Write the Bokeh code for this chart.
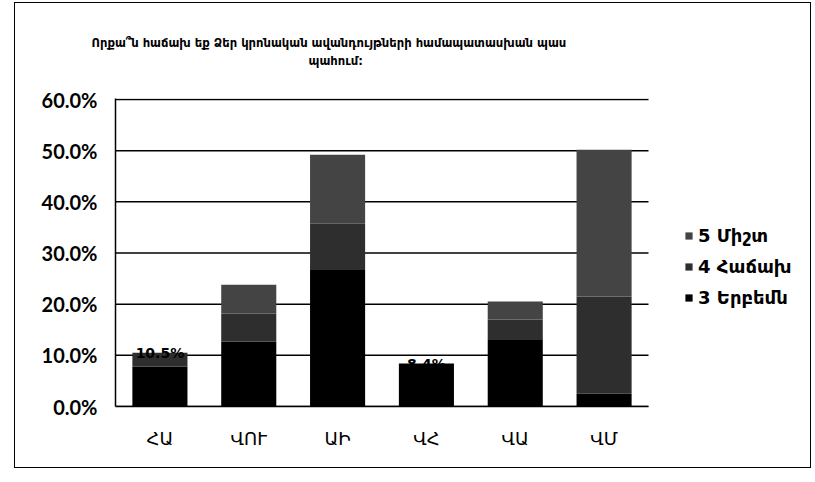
from bokeh.plotting import figure
from bokeh.models import Legend, LegendItem, PrintfTickFormatter, FixedTicker, Title, Range1d
from bokeh.embed import file_html
from bokeh.resources import INLINE
from bokeh.core.properties import value

# ---- data ----
categories = ["ՀԱ", "ՎՈՒ", "ԱԻ", "ՎՀ", "ՎԱ", "ՎՄ"]
series_keys = ["s3", "s4", "s5"]
series_names = ["3 Երբեմն", "4 Հաճախ", "5 Միշտ"]
s3 = [7.8, 12.7, 26.7, 8.4, 13.0, 2.5]
s4 = [2.7, 5.5, 9.0, 0.0, 4.0, 19.0]
s5 = [0.0, 5.6, 13.5, 0.0, 3.5, 28.7]
label_cats = ["ՀԱ", "ՎՀ"]
label_vals = [10.5, 8.4]
label_texts = ["10.5%", "8.4%"]
y_ticks = [0, 10, 20, 30, 40, 50, 60]
title_line1 = "Որքա՞ն հաճախ եք Ձեր կրոնական ավանդույթների համապատասխան պաս"
title_line2 = "պահում:"

colors = ["#000000", "#2e2e2e", "#444444"]

# category slot positions (one unit per category, bars centred in their slot)
xpos = [i + 0.5 for i in range(len(categories))]
n = len(categories)

FRAME_W = 697
x_end = n * FRAME_W / 533.0  # extra room on the right of the plot for the legend

p = figure(x_range=Range1d(0, x_end), y_range=Range1d(0, 60.2), width=797, height=466,
           output_backend="svg", toolbar_location=None,
           min_border_left=100, min_border_right=0,
           min_border_top=95, min_border_bottom=63)
p.styles = {"border": "1.5px solid black", "margin-left": "14px", "margin-top": "2px"}

src = dict(x=xpos, s3=s3, s4=s4, s5=s5)
rs = p.vbar_stack(series_keys, x="x", width=0.62, source=src,
                  fill_color=colors, line_color=None)

# horizontal gridlines limited to the category area
p.segment(x0=[0] * len(y_ticks), x1=[n] * len(y_ticks), y0=y_ticks, y1=y_ticks,
          line_color="#000000", line_width=1.5, level="underlay")

p.text(x=[xpos[categories.index(c)] for c in label_cats], y=label_vals, text=label_texts,
       text_align="center", text_baseline="middle",
       text_font=value("DejaVu Sans"), text_font_size="14px",
       text_font_style="bold", text_color="#000000")

# title (two lines)
p.title = None
t2 = Title(text=title_line2, align="left", offset=193, standoff=62,
           text_font="DejaVu Sans", text_font_size="11.6px",
           text_font_style="bold", text_color="#000000")
t1 = Title(text=title_line1, align="left", offset=-24, standoff=-58,
           text_font="DejaVu Sans", text_font_size="11.6px",
           text_font_style="bold", text_color="#000000")
p.add_layout(t2, "above")
p.add_layout(t1, "above")

# axes
p.yaxis.ticker = FixedTicker(ticks=y_ticks)
p.yaxis.formatter = PrintfTickFormatter(format="%.1f%%")
p.yaxis.major_label_text_font = "Lato"
p.yaxis.major_label_text_font_style = "bold"
p.yaxis.major_label_text_font_size = "20px"
p.yaxis.major_label_text_color = "#000000"
p.yaxis.major_label_standoff = 12
p.yaxis.major_tick_line_color = None
p.yaxis.minor_tick_line_color = None
p.yaxis.axis_line_color = "#000000"
p.yaxis.axis_line_width = 1.5

p.xaxis.ticker = FixedTicker(ticks=xpos)
p.xaxis.major_label_overrides = {x: c for x, c in zip(xpos, categories)}
p.xaxis.bounds = (0, n)
p.xaxis.major_label_text_font = "DejaVu Sans"
p.xaxis.major_label_text_font_size = "18px"
p.xaxis.major_label_text_color = "#000000"
p.xaxis.major_label_standoff = 15
p.xaxis.major_tick_line_color = None
p.xaxis.minor_tick_line_color = None
p.xaxis.axis_line_color = "#000000"
p.xaxis.axis_line_width = 1.5

p.xgrid.grid_line_color = None
p.ygrid.grid_line_color = None
p.outline_line_color = None

items = [LegendItem(label=series_names[i], renderers=[rs[i]]) for i in (2, 1, 0)]
legend = Legend(items=items, location=(569, 98), orientation="vertical",
                glyph_width=9, glyph_height=9, label_height=20, spacing=10,
                label_standoff=5, padding=0, margin=0,
                border_line_color=None, background_fill_alpha=0,
                label_text_font="DejaVu Sans", label_text_font_size="18px",
                label_text_font_style="bold", label_text_color="#000000")
p.add_layout(legend, "center")

open("out.html", "w").write(file_html(p, INLINE))
